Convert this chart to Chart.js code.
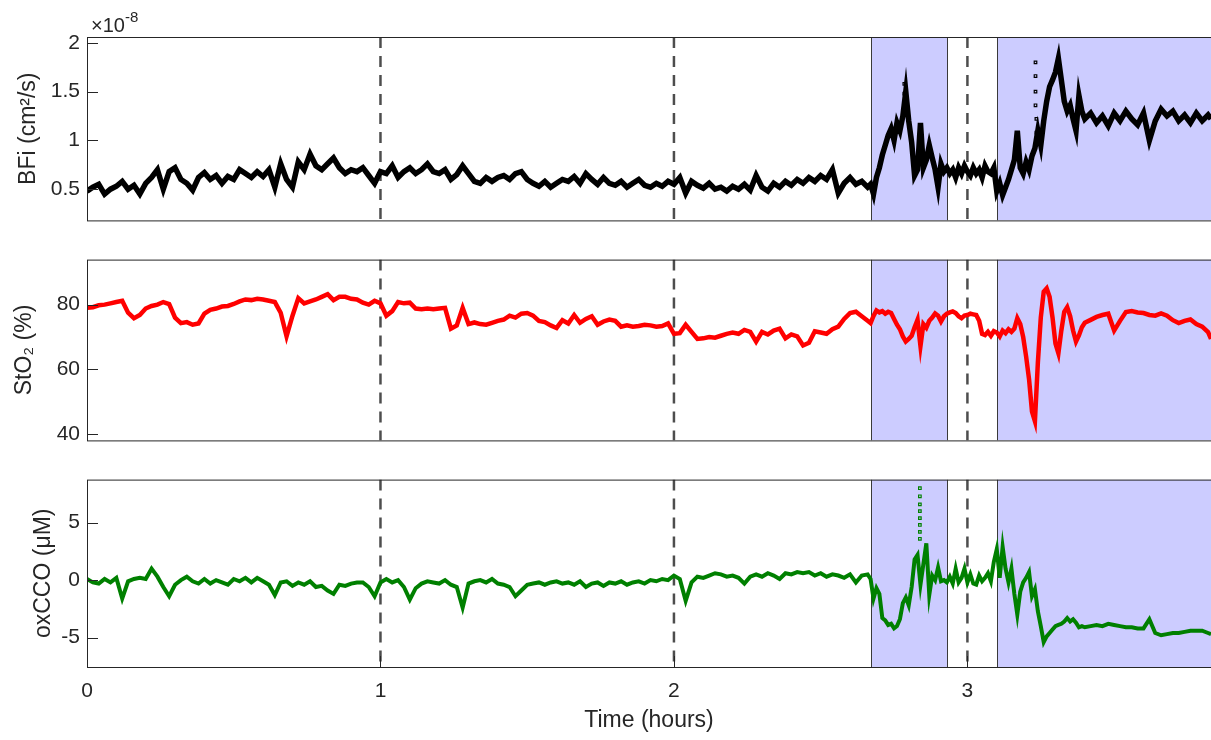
<!DOCTYPE html>
<html>
<head>
<meta charset="utf-8">
<script src="https://cdn.jsdelivr.net/npm/chart.js@4.4.1/dist/chart.umd.min.js"></script>
<style>
    html, body { margin: 0; padding: 0; background: #fff; }
    #wrap { position: relative; width: 1211px; height: 740px; overflow: hidden; }
    #wrap canvas { position: absolute; left: 0; }
</style>
</head>
<body>
<div id="wrap">
    <canvas id="bfiChart" width="1211" height="240" style="top:0px"></canvas>
    <canvas id="stoChart" width="1211" height="220" style="top:240px"></canvas>
    <canvas id="oxChart" width="1211" height="280" style="top:460px"></canvas>
</div>
<script>
// ===== DATA =====
const hours = [
    0.00,0.02,0.04,0.06,0.08,0.10,0.12,0.14,0.16,0.18,
    0.20,0.22,0.24,0.26,0.28,0.30,0.32,0.34,0.36,0.38,
    0.40,0.42,0.44,0.46,0.48,0.50,0.52,0.54,0.56,0.58,
    0.60,0.62,0.64,0.66,0.68,0.70,0.72,0.74,0.76,0.78,
    0.80,0.82,0.84,0.86,0.88,0.90,0.92,0.94,0.96,0.98,
    1.00,1.02,1.04,1.06,1.08,1.10,1.12,1.14,1.16,1.18,
    1.20,1.22,1.24,1.26,1.28,1.30,1.32,1.34,1.36,1.38,
    1.40,1.42,1.44,1.46,1.48,1.50,1.52,1.54,1.56,1.58,
    1.60,1.62,1.64,1.66,1.68,1.70,1.72,1.74,1.76,1.78,
    1.80,1.82,1.84,1.86,1.88,1.90,1.92,1.94,1.96,1.98,
    2.00,2.02,2.04,2.06,2.08,2.10,2.12,2.14,2.16,2.18,
    2.20,2.22,2.24,2.26,2.28,2.30,2.32,2.34,2.36,2.38,
    2.40,2.42,2.44,2.46,2.48,2.50,2.52,2.54,2.56,2.58,
    2.60,2.62,2.64,2.66,
    2.67,2.68,2.69,2.70,2.71,2.72,2.73,2.74,2.75,2.76,
    2.77,2.78,2.79,2.80,2.81,2.82,2.83,2.84,2.85,2.86,
    2.87,2.88,2.89,2.90,2.91,2.92,2.93,2.94,2.95,2.96,
    2.97,2.98,2.99,3.00,3.01,3.02,3.03,3.04,3.05,3.06,
    3.07,3.08,3.09,3.10,3.11,3.12,3.13,3.14,3.15,3.16,
    3.17,3.18,3.19,3.20,3.21,3.22,3.23,3.24,3.25,3.26,
    3.27,3.28,3.29,3.30,3.31,3.32,3.33,3.34,3.35,3.36,
    3.37,3.38,3.39,3.40,
    3.42,3.44,3.46,3.48,3.50,3.52,3.54,3.56,3.58,3.60,
    3.62,3.64,3.66,3.68,3.70,3.72,3.74,3.76,3.78,3.80,
    3.82,3.83
];

// BFi, in units of 1e-8 cm^2/s
const bfiValues = [
    0.48,0.52,0.55,0.45,0.50,0.53,0.58,0.50,0.54,0.45,
    0.56,0.62,0.70,0.50,0.68,0.72,0.60,0.56,0.49,0.62,
    0.67,0.60,0.64,0.56,0.63,0.60,0.70,0.66,0.62,0.68,
    0.63,0.70,0.52,0.76,0.60,0.52,0.78,0.70,0.86,0.74,
    0.70,0.76,0.82,0.72,0.66,0.70,0.68,0.72,0.64,0.56,
    0.68,0.66,0.74,0.62,0.68,0.72,0.66,0.70,0.76,0.68,
    0.66,0.70,0.60,0.65,0.74,0.66,0.58,0.56,0.62,0.58,
    0.62,0.64,0.60,0.66,0.68,0.60,0.56,0.53,0.58,0.52,
    0.56,0.60,0.58,0.63,0.56,0.66,0.60,0.55,0.62,0.56,
    0.54,0.58,0.52,0.56,0.60,0.54,0.52,0.56,0.53,0.58,
    0.55,0.62,0.46,0.58,0.54,0.51,0.56,0.50,0.52,0.48,
    0.53,0.50,0.55,0.49,0.64,0.52,0.48,0.56,0.52,0.58,
    0.54,0.60,0.56,0.62,0.58,0.64,0.60,0.70,0.46,0.56,
    0.62,0.55,0.58,0.52,
    0.55,0.45,0.62,0.72,0.85,0.95,1.05,1.12,1.00,1.18,
    1.10,1.25,1.50,1.20,0.98,0.64,0.70,1.18,0.72,0.80,
    0.95,0.82,0.70,0.52,0.76,0.68,0.72,0.66,0.70,0.62,
    0.72,0.66,0.74,0.68,0.64,0.72,0.66,0.70,0.62,0.74,
    0.68,0.66,0.72,0.48,0.56,0.44,0.52,0.60,0.70,0.80,
    1.10,0.72,0.66,0.78,0.70,0.84,0.92,1.10,0.95,1.20,
    1.40,1.55,1.62,1.70,1.84,1.62,1.40,1.30,1.36,1.22,
    1.10,1.46,1.30,1.22,
    1.28,1.18,1.25,1.15,1.28,1.20,1.30,1.22,1.16,1.28,
    1.00,1.20,1.32,1.25,1.30,1.20,1.26,1.18,1.28,1.20,
    1.26,1.22
];

// StO2, %
const stoValues = [
    79.0,79.2,79.8,80.0,80.4,80.8,81.2,77.5,75.8,76.8,
    78.8,79.6,80.0,80.8,80.2,76.0,74.3,74.6,73.8,74.2,
    77.2,78.4,78.8,79.4,79.6,80.2,81.0,81.6,81.4,81.8,
    81.6,81.2,80.8,77.5,70.2,76.5,82.0,80.4,81.0,81.6,
    82.4,83.2,81.4,82.4,82.4,81.8,81.6,80.6,80.0,81.2,
    80.4,76.6,78.0,80.8,80.4,80.6,78.8,78.6,78.8,78.6,
    78.8,79.0,72.6,73.6,79.0,74.0,74.5,74.0,73.8,74.4,
    75.0,75.4,76.6,76.0,77.2,77.4,76.6,75.0,74.6,73.6,
    72.8,75.2,74.2,76.8,74.4,75.6,76.4,73.8,74.8,75.4,
    75.0,73.2,73.6,73.2,73.4,73.8,73.6,73.2,73.4,74.2,
    71.0,71.2,73.8,71.6,69.4,69.6,70.0,69.8,70.4,71.0,
    71.4,71.0,72.2,71.6,68.6,71.6,70.8,72.0,72.6,69.6,
    70.8,70.2,67.4,68.2,71.8,71.4,71.0,72.4,73.2,75.6,
    77.4,77.8,76.4,75.0,
    74.3,76.5,78.2,77.6,78.0,77.2,77.8,77.4,75.6,73.8,
    72.4,70.2,68.6,69.4,70.4,73.0,75.3,67.2,74.0,72.9,
    75.0,76.0,77.3,76.6,74.8,76.4,77.2,77.6,77.9,77.4,
    76.4,75.8,76.6,76.8,77.2,77.0,76.8,75.0,71.0,70.6,
    71.6,70.4,71.8,71.4,70.2,72.0,71.2,72.4,71.6,72.6,
    75.8,74.0,70.0,64.0,57.0,47.0,44.0,62.0,76.0,84.0,
    85.0,82.4,76.0,68.0,65.0,72.0,77.8,79.2,76.5,72.0,
    68.6,70.5,73.0,74.4,
    75.3,76.2,76.8,77.2,72.0,75.0,77.7,78.0,77.6,77.4,
    76.8,76.6,77.3,76.6,75.2,74.3,75.0,75.4,74.0,73.2,
    71.5,69.4
];

// oxCCO, uM
const oxValues = [
    0.1,-0.2,-0.3,0.1,-0.2,0.2,-1.6,-0.1,0.1,0.2,
    0.1,1.0,0.3,-0.6,-1.4,-0.4,0.0,0.3,-0.1,-0.3,
    0.1,-0.3,0.0,-0.2,-0.4,0.1,-0.1,0.2,-0.2,0.2,
    -0.1,-0.4,-1.3,-0.2,-0.1,-0.5,-0.2,-0.4,-0.1,-0.6,
    -0.5,-0.9,-1.2,-0.4,-0.5,-0.3,-0.2,-0.2,-0.6,-1.4,
    -0.2,0.1,-0.2,0.0,-0.6,-1.7,-0.7,-0.3,-0.1,-0.2,
    -0.3,0.0,-0.4,-0.6,-2.4,-0.3,-0.1,0.0,-0.2,0.1,
    -0.3,-0.4,-0.6,-1.4,-0.9,-0.4,-0.3,-0.2,-0.4,-0.2,
    -0.1,-0.3,-0.2,-0.4,-0.1,-0.6,-0.3,-0.2,-0.5,-0.2,
    -0.3,-0.1,-0.4,-0.2,-0.1,-0.3,0.0,-0.1,0.1,0.0,
    0.4,0.1,-1.8,-0.2,0.3,0.2,0.4,0.6,0.5,0.3,
    0.4,0.2,-0.3,0.3,0.5,0.3,0.6,0.4,0.1,0.6,
    0.5,0.7,0.6,0.7,0.4,0.6,0.3,0.5,0.4,0.2,
    0.5,-0.2,0.4,0.5,
    0.1,-1.6,-0.7,-1.2,-3.3,-3.5,-3.9,-3.8,-4.2,-4.0,
    -3.4,-2.0,-1.5,-2.2,-0.6,1.8,2.2,-0.4,1.4,3.2,
    -1.3,0.4,0.0,1.1,-0.1,0.0,-0.2,0.3,-0.3,1.0,
    -0.2,0.2,1.0,-0.2,0.5,-0.3,-0.4,0.4,-0.1,0.2,
    0.6,-0.1,1.6,2.7,0.2,2.9,1.0,-0.2,1.0,-1.2,
    -3.0,-1.0,-0.2,0.2,0.7,-1.4,-0.8,-2.7,-4.0,-5.4,
    -4.9,-4.6,-4.3,-4.0,-3.9,-3.8,-3.6,-3.3,-3.6,-3.4,
    -3.7,-4.1,-4.0,-4.1,
    -4.0,-3.9,-4.0,-3.8,-3.9,-4.0,-4.1,-4.1,-4.2,-4.2,
    -3.4,-4.6,-4.8,-4.7,-4.6,-4.6,-4.5,-4.4,-4.4,-4.4,
    -4.6,-4.7
];

// stray samples that sit away from the main trace
const bfiOutlierHours = [2.785, 2.785, 2.785, 2.790, 3.232, 3.232, 3.232, 3.232, 3.235, 3.235];
const bfiOutlierValues = [1.58, 1.48, 1.38, 1.30, 1.80, 1.66, 1.50, 1.36, 1.22, 1.08];
const oxOutlierHours = [2.838, 2.838, 2.838, 2.838, 2.838, 2.838, 2.838, 2.838];
const oxOutlierValues = [8.0, 7.3, 6.6, 6.0, 5.4, 4.8, 4.2, 3.6];

// shaded intervals and hour markers
const shadedSpans = [[2.671, 2.930], [3.100, 3.83]];
const markerHours = [1, 2, 3];
const timeTicks = [0, 1, 2, 3];
const bfiTicks = [0.5, 1, 1.5, 2];
const stoTicks = [40, 60, 80];
const oxTicks = [-5, 0, 5];

// ===== STYLE =====
const axisColor = '#262626';
const fontFamily = "'Liberation Sans', Arial, Helvetica, sans-serif";
const tickFont = { family: fontFamily, size: 21 };
const titleFont = { family: fontFamily, size: 23 };

function toPoints(xs, ys) {
    return xs.map((x, i) => ({ x: x, y: ys[i] }));
}

// patches, hour markers, frame and inward ticks, MATLAB style
const panelDecor = {
    id: 'panelDecor',
    beforeDatasetsDraw(chart) {
        const { ctx, chartArea: a, scales: { x } } = chart;
        ctx.save();
        ctx.beginPath();
        ctx.rect(a.left, a.top, a.right - a.left, a.bottom - a.top);
        ctx.clip();

        shadedSpans.forEach(([s, e]) => {
            const x1 = Math.round(x.getPixelForValue(s));
            const x2 = Math.round(x.getPixelForValue(e));
            ctx.fillStyle = '#ccccff';
            ctx.fillRect(x1, a.top, x2 - x1, a.bottom - a.top);
            ctx.strokeStyle = '#3a3a3a';
            ctx.lineWidth = 1;
            ctx.beginPath();
            ctx.moveTo(x1 + 0.5, a.top);
            ctx.lineTo(x1 + 0.5, a.bottom);
            if (x2 < a.right - 1) {
                ctx.moveTo(x2 + 0.5, a.top);
                ctx.lineTo(x2 + 0.5, a.bottom);
            }
            ctx.stroke();
        });

        ctx.strokeStyle = '#4d4d4d';
        ctx.lineWidth = 2.5;
        ctx.setLineDash([11, 8]);
        markerHours.forEach(h => {
            const px = x.getPixelForValue(h);
            ctx.beginPath();
            ctx.moveTo(px, a.top);
            ctx.lineTo(px, a.bottom);
            ctx.stroke();
        });
        ctx.restore();
    },
    afterDraw(chart, args, opts) {
        const { ctx, chartArea: a, scales: { x, y } } = chart;
        ctx.save();
        ctx.strokeStyle = axisColor;
        ctx.lineWidth = 1;
        ctx.strokeRect(a.left + 0.5, a.top + 0.5, a.right - a.left, a.bottom - a.top);

        ctx.beginPath();
        y.ticks.forEach(t => {
            const py = Math.round(y.getPixelForValue(t.value)) + 0.5;
            ctx.moveTo(a.left, py);
            ctx.lineTo(a.left + 11, py);
        });
        if (opts.timeTicks) {
            timeTicks.forEach(v => {
                const px = Math.round(x.getPixelForValue(v)) + 0.5;
                ctx.moveTo(px, a.bottom);
                ctx.lineTo(px, a.bottom - 11);
            });
        }
        ctx.stroke();

        if (opts.exponent) {
            ctx.fillStyle = axisColor;
            ctx.textBaseline = 'alphabetic';
            ctx.textAlign = 'left';
            ctx.font = '20px ' + fontFamily;
            ctx.fillText('\u00d710', a.left + 4, 32);
            const w = ctx.measureText('\u00d710').width;
            ctx.font = '15px ' + fontFamily;
            ctx.fillText('-8', a.left + 4 + w, 22);
        }
        ctx.restore();
    }
};

function yScale(min, max, ticks, title, titlePad) {
    return {
        type: 'linear',
        min: min,
        max: max,
        afterFit: s => { s.width = 87; },
        afterBuildTicks: s => { s.ticks = ticks.map(v => ({ value: v })); },
        grid: { display: false, drawTicks: false },
        border: { display: false },
        ticks: { color: axisColor, font: tickFont, padding: 7, callback: v => String(v) },
        title: {
            display: true, text: title, color: axisColor, font: titleFont,
            padding: { top: titlePad, bottom: 0 }
        }
    };
}

function xScale(showAxis) {
    const scale = {
        type: 'linear',
        min: 0,
        max: 3.83,
        display: showAxis,
        grid: { display: false, drawTicks: false },
        border: { display: false }
    };
    if (showAxis) {
        scale.afterFit = s => { s.height = 73; };
        scale.afterBuildTicks = s => { s.ticks = timeTicks.map(v => ({ value: v })); };
        scale.ticks = { color: axisColor, font: tickFont, padding: 12, maxRotation: 0, autoSkip: false, callback: v => String(v) };
        scale.title = {
            display: true, text: 'Time (hours)', color: axisColor, font: titleFont,
            padding: { top: 0, bottom: 6 }
        };
    }
    return scale;
}

function lineSet(points, color, width) {
    return {
        data: points,
        borderColor: color,
        borderWidth: width,
        pointRadius: 0,
        tension: 0,
        fill: false
    };
}

function outlierSet(points, color) {
    return {
        data: points,
        showLine: false,
        pointStyle: 'rect',
        pointRadius: 1.8,
        pointBorderWidth: 1.2,
        pointBorderColor: color,
        pointBackgroundColor: 'rgba(0,0,0,0)'
    };
}

function makePanel(id, datasets, y, showTime, padding, decor) {
    return new Chart(document.getElementById(id), {
        type: 'line',
        data: { datasets: datasets },
        options: {
            responsive: false,
            animation: false,
            devicePixelRatio: 1,
            events: [],
            layout: { padding: padding, autoPadding: false },
            scales: { x: xScale(showTime), y: y },
            plugins: {
                legend: { display: false },
                tooltip: { enabled: false },
                panelDecor: decor
            }
        },
        plugins: [panelDecor]
    });
}

makePanel('bfiChart', [
    lineSet(toPoints(hours, bfiValues), '#000000', 5.5),
    outlierSet(toPoints(bfiOutlierHours, bfiOutlierValues), '#000000')
], yScale(0.18, 2.06, bfiTicks, 'BFi (cm\u00b2/s)', 15),
   false, { top: 37, bottom: 13, left: 0, right: 0 }, { exponent: true });

makePanel('stoChart', [
    lineSet(toPoints(hours, stoValues), '#ff0000', 4.5)
], yScale(38.1, 93.9, stoTicks, 'StO\u2082 (%)', 11),
   false, { top: 17, bottom: 13, left: 0, right: 0 }, {});

makePanel('oxChart', [
    lineSet(toPoints(hours, oxValues), '#008000', 4),
    outlierSet(toPoints(oxOutlierHours, oxOutlierValues), '#008000')
], yScale(-7.56, 8.75, oxTicks, 'oxCCO (\u03bcM)', 30),
   true, { top: 15, bottom: 0, left: 0, right: 0 }, { timeTicks: true });
</script>
</body>
</html>
